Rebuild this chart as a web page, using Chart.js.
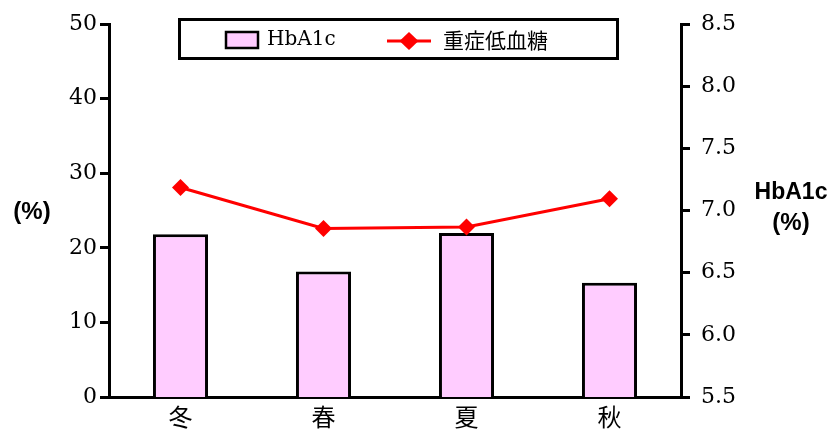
<!DOCTYPE html>
<html>
<head>
<meta charset="utf-8">
<script src="https://cdn.jsdelivr.net/npm/chart.js@4.4.1/dist/chart.umd.min.js"></script>
<style>
    html, body { margin: 0; padding: 0; background: #fff; }
    #wrap { width: 832px; height: 430px; }
</style>
</head>
<body>
<div id="wrap"><canvas id="chart1" width="832" height="430"></canvas></div>
<script>
const seasons = ['冬', '春', '夏', '秋'];
const hba1cValues = [6.81, 6.51, 6.82, 6.42];        // right axis, HbA1c (%)
const hypoValues = [28.1, 22.6, 22.8, 26.6];         // left axis, (%)
const leftTicks = [0, 10, 20, 30, 40, 50];
const rightTicks = [5.5, 6.0, 6.5, 7.0, 7.5, 8.0, 8.5];

const serifFont = "'DejaVu Serif', serif";
const sansFont = "'Liberation Sans', Arial, sans-serif";
const cjkFont = "'Noto Sans CJK JP', sans-serif";

// legend with a framed box + axis titles written horizontally
const extrasPlugin = {
    id: 'extras',
    afterDraw(chart) {
        const ctx = chart.ctx;
        ctx.save();

        // legend frame
        ctx.strokeStyle = '#000';
        ctx.lineWidth = 3;
        ctx.strokeRect(179.5, 19.5, 438, 39);

        const barSet = chart.data.datasets[0];
        const lineSet = chart.data.datasets[1];

        // bar swatch
        ctx.fillStyle = barSet.backgroundColor;
        ctx.fillRect(226, 32, 32, 16);
        ctx.lineWidth = 2.5;
        ctx.strokeRect(226, 32, 32, 16);

        ctx.fillStyle = '#000';
        ctx.textBaseline = 'middle';
        ctx.textAlign = 'left';
        ctx.font = '20px ' + serifFont;
        ctx.fillText(barSet.label, 267, 40);

        // line swatch with diamond
        ctx.strokeStyle = lineSet.borderColor;
        ctx.lineWidth = 3;
        ctx.beginPath();
        ctx.moveTo(387, 41);
        ctx.lineTo(431, 41);
        ctx.stroke();
        ctx.fillStyle = lineSet.pointBackgroundColor;
        ctx.beginPath();
        ctx.moveTo(409, 32);
        ctx.lineTo(418.5, 41);
        ctx.lineTo(409, 50);
        ctx.lineTo(399.5, 41);
        ctx.closePath();
        ctx.fill();

        ctx.fillStyle = '#000';
        ctx.font = '21px ' + cjkFont;
        ctx.fillText(lineSet.label, 443, 40);

        // axis titles
        ctx.textAlign = 'center';
        ctx.font = 'bold 24px ' + sansFont;
        ctx.fillText('(%)', 32, 212);
        ctx.font = 'bold 23px ' + sansFont;
        ctx.fillText('HbA1c', 791, 193);
        ctx.font = 'bold 24px ' + sansFont;
        ctx.fillText('(%)', 791, 223);

        ctx.restore();
    }
};

const ctx = document.getElementById('chart1').getContext('2d');
const chart = new Chart(ctx, {
    data: {
        labels: seasons,
        datasets: [
            {
                type: 'bar',
                label: 'HbA1c',
                data: hba1cValues,
                yAxisID: 'y1',
                backgroundColor: '#FFCCFF',
                borderColor: '#000',
                borderWidth: 3,
                categoryPercentage: 1,
                barPercentage: 0.385,
                order: 2
            },
            {
                type: 'line',
                label: '重症低血糖',
                data: hypoValues,
                yAxisID: 'y',
                borderColor: '#FF0000',
                borderWidth: 3,
                pointStyle: 'rectRot',
                pointRadius: 8.5,
                pointBorderWidth: 0,
                pointBackgroundColor: '#FF0000',
                tension: 0,
                order: 1
            }
        ]
    },
    options: {
        responsive: false,
        animation: false,
        devicePixelRatio: 1,
        layout: {
            padding: { top: 21, left: 0, right: 0, bottom: 0 }
        },
        plugins: {
            legend: { display: false },
            tooltip: { enabled: false }
        },
        scales: {
            x: {
                type: 'category',
                offset: true,
                grid: { display: true, drawOnChartArea: false, drawTicks: false },
                border: { display: true, color: '#000', width: 3 },
                ticks: {
                    color: '#000',
                    padding: 5,
                    font: { family: cjkFont, size: 24 }
                },
                afterFit: (scale) => { scale.height = 33; }
            },
            y: {
                type: 'linear',
                position: 'left',
                min: 0,
                max: 50,
                afterBuildTicks: (scale) => { scale.ticks = leftTicks.map(v => ({ value: v })); },
                grid: { drawOnChartArea: false, color: '#000', lineWidth: 3, tickLength: 9 },
                border: { display: true, color: '#000', width: 3 },
                ticks: {
                    color: '#000',
                    padding: 3,
                    font: { family: serifFont, size: 22 }
                },
                afterFit: (scale) => { scale.width = 109; }
            },
            y1: {
                type: 'linear',
                position: 'right',
                min: 5.5,
                max: 8.5,
                afterBuildTicks: (scale) => { scale.ticks = rightTicks.map(v => ({ value: v })); },
                grid: { drawOnChartArea: false, color: '#000', lineWidth: 3, tickLength: 9 },
                border: { display: true, color: '#000', width: 3 },
                ticks: {
                    color: '#000',
                    padding: 11,
                    font: { family: serifFont, size: 22 },
                    callback: (v) => Number(v).toFixed(1)
                },
                afterFit: (scale) => { scale.width = 151; }
            }
        }
    },
    plugins: [extrasPlugin]
});
</script>
</body>
</html>
